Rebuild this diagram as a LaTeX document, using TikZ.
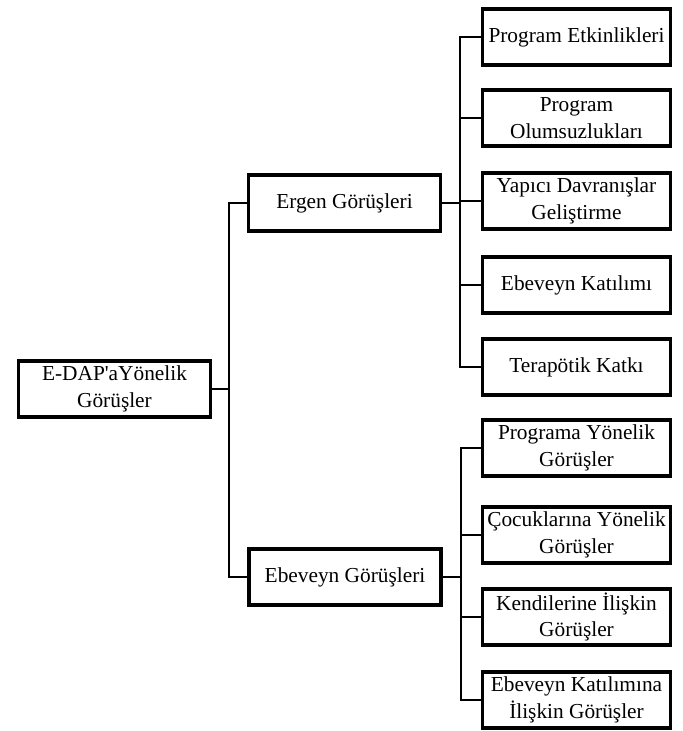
\documentclass[tikz,border=0pt]{standalone}
\usepackage{fontspec}
\setmainfont{Liberation Serif}
\usepackage{tikz}

\tikzset{
	kutu/.style={draw, line width=2.6pt, minimum width=144pt, minimum height=42pt, align=center, font=\fontsize{16}{20}\selectfont, inner sep=2pt},
	dal/.style={line width=1.7pt}
}

\begin{document}
\begin{tikzpicture}[x=0.75pt,y=-0.75pt]
	\useasboundingbox (0,0) rectangle (682,731);
	% root and main branches
	\node[kutu] at (114.5,389) (kok) {E-DAP\textquotesingle aYönelik\\Görüşler};
	\node[kutu] at (344.5,203) (ergen) {Ergen Görüşleri};
	\node[kutu] at (345,577) (ebeveyn) {Ebeveyn Görüşleri};
	% ergen children
	\node[kutu,minimum width=141pt] at (576.5,37) (e1) {Program Etkinlikleri};
	\node[kutu,minimum width=141pt] at (576.5,118) (e2) {Program\\Olumsuzlukları};
	\node[kutu,minimum width=141pt] at (576.5,201) (e3) {Yapıcı Davranışlar\\Geliştirme};
	\node[kutu,minimum width=141pt] at (576.5,285) (e4) {Ebeveyn Katılımı};
	\node[kutu,minimum width=141pt] at (576.5,367) (e5) {Terapötik Katkı};
	% ebeveyn children
	\node[kutu,minimum width=141pt] at (576.5,448) (b1) {Programa Yönelik\\Görüşler};
	\node[kutu,minimum width=141pt] at (576.5,535) (b2) {Çocuklarına Yönelik\\Görüşler};
	\node[kutu,minimum width=141pt] at (576.5,617) (b3) {Kendilerine İlişkin\\Görüşler};
	\node[kutu,minimum width=141pt] at (576.5,700) (b4) {Ebeveyn Katılımına\\İlişkin Görüşler};
	% junctions
	\coordinate (govde) at (229,389);
	\coordinate (ej) at (460,203);
	\coordinate (bj) at (461,577);
	\draw[dal] (kok.east) -- (govde);
	\draw[dal] (ergen.west) -| (govde) |- (ebeveyn.west);
	\draw[dal] (ergen.east) -- (ej);
	\draw[dal] (ebeveyn.east) -- (bj);
	\foreach \n in {e1,e2,e3,e4,e5}
		\draw[dal] (ej) |- (\n.west);
	\foreach \n in {b1,b2,b3,b4}
		\draw[dal] (bj) |- (\n.west);
\end{tikzpicture}
\end{document}
